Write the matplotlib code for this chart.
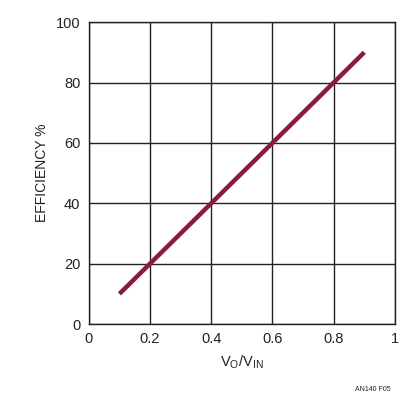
import matplotlib
matplotlib.use("Agg")
import matplotlib.pyplot as plt

ratio = [0.1, 0.9]
efficiency = [10, 90]
x_ticks = [0, 0.2, 0.4, 0.6, 0.8, 1.0]
x_labels = ["0", "0.2", "0.4", "0.6", "0.8", "1"]
y_ticks = [0, 20, 40, 60, 80, 100]

plt.rcParams["font.family"] = ["Liberation Sans", "DejaVu Sans"]

fig = plt.figure(figsize=(4.17, 4.03), dpi=100)
ax = fig.add_axes([0.213, 0.196, 0.734, 0.749])

# single straight line, efficiency tracks Vo/Vin
ax.plot(ratio, efficiency, color="#8b1a3c", lw=3.2, solid_capstyle="butt", zorder=3)

ax.set_xlim(0, 1)
ax.set_ylim(0, 100)
ax.set_xticks(x_ticks)
ax.set_xticklabels(x_labels)
ax.set_yticks(y_ticks)
ax.grid(True, color="#222222", lw=1.0)
ax.tick_params(length=0, labelsize=10.5, pad=6, colors="#222222")
for s in ax.spines.values():
    s.set_color("#222222")
    s.set_linewidth(1.0)

ax.set_xlabel("V$_\\mathregular{O}$/V$_\\mathregular{IN}$", fontsize=10.5, color="#222222", labelpad=5)
ax.set_ylabel("EFFICIENCY %", fontsize=10, color="#222222", labelpad=5)

fig.text(0.895, 0.025, "AN140 F05", fontsize=5, ha="center", va="bottom", color="#222222")

fig.savefig("out.png", dpi=100)
